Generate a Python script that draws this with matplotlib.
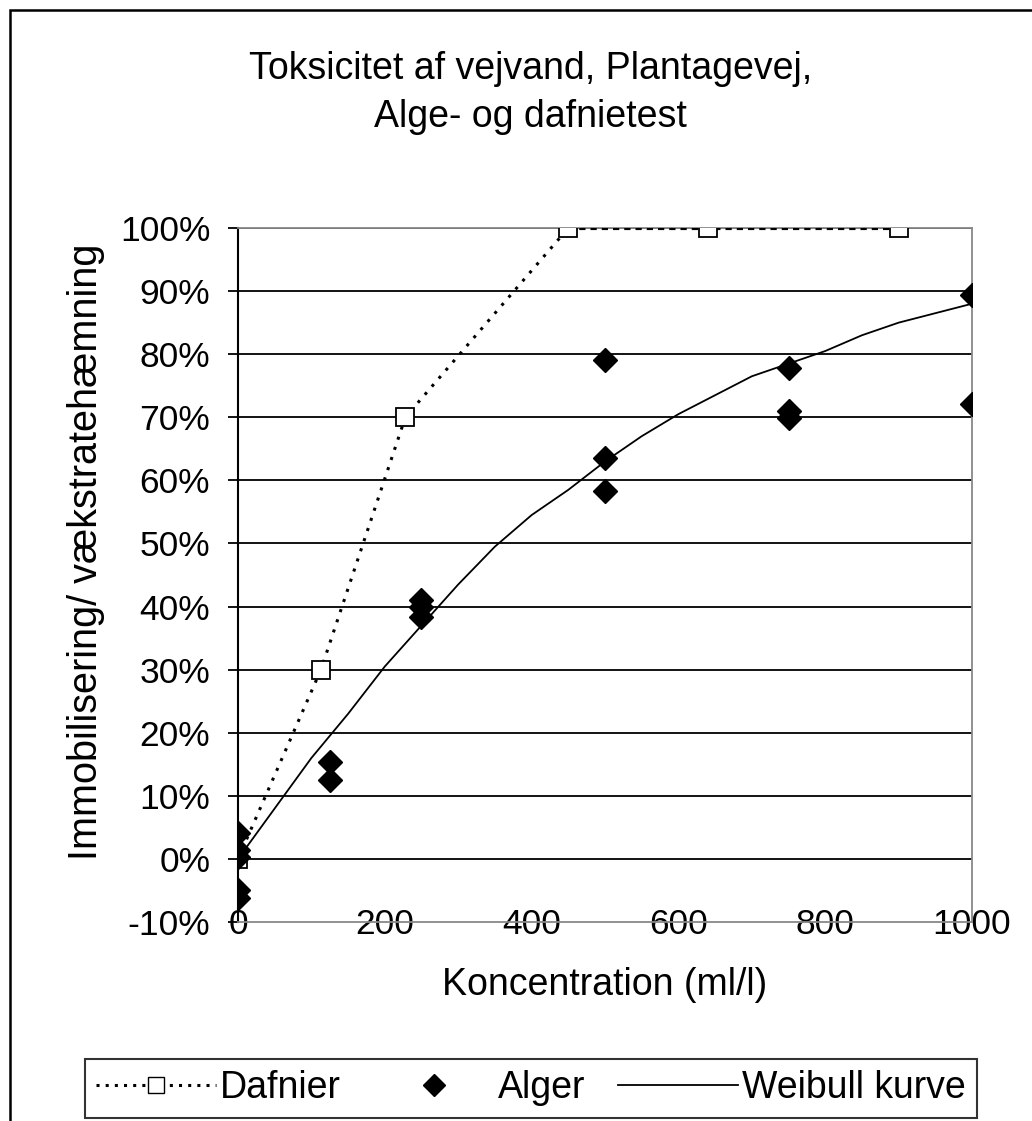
import numpy as np
import matplotlib.pyplot as plt
from matplotlib.patches import Rectangle

plt.rcParams['font.family'] = ['Liberation Sans', 'DejaVu Sans']

# Dafnier (daphnia) immobilisation
daf_x = [0, 113, 228, 450, 640, 900]
daf_y = [0, 30, 70, 100, 100, 100]

# Alger (algae) growth inhibition
alg_x = [0, 0, 0, 0, 0, 125, 125, 250, 250, 250, 500, 500, 500, 750, 750, 750, 1000, 1000]
alg_y = [4.1, 1.4, 0.3, -4.9, -6.2, 15.4, 12.5, 41, 40, 38.3, 79.1, 63.5, 58.3, 77.8, 71, 69.9, 89.4, 72.1]

# Weibull curve
wb_x = [0, 25, 50, 75, 100, 150, 200, 250, 300, 350, 400, 450, 500, 550, 600, 650, 700, 750, 800, 850, 900, 950, 1000]
wb_y = [0, 4, 8, 12, 16, 23, 30.5, 37, 43.5, 49.5, 54.5, 58.5, 63, 67, 70.5, 73.5, 76.5, 78.5, 80.5, 83, 85, 86.5, 88]

yticks = list(range(-10, 101, 10))
xticks = [0, 200, 400, 600, 800, 1000]

fig = plt.figure(figsize=(10.32, 11.21), dpi=100)
ax = fig.add_axes([0.2306, 0.1775, 0.7113, 0.6191])

# frame round the whole chart (only left and top show)
fig.patches.append(Rectangle((0.0097, -0.05), 1.2, 0.05 + 0.991, transform=fig.transFigure,
                             fill=False, edgecolor='black', linewidth=1.8))

for yv in yticks[1:]:
    ax.axhline(yv, color='black', linewidth=1.3, zorder=1)

# dafnier line: dotted up to 100 %, heavier dashes after
ax.plot(daf_x[:4], daf_y[:4], color='black', linestyle=(0, (1, 2.5)), linewidth=2.2, zorder=3)
ax.plot(daf_x[3:], daf_y[3:], color='black', linestyle=(0, (1.5, 1.2)), linewidth=3, zorder=3)
ax.plot(daf_x, daf_y, linestyle='none', marker='s', markersize=13, markerfacecolor='white',
        markeredgecolor='black', markeredgewidth=1.3, zorder=5)

ax.plot(wb_x, wb_y, color='black', linewidth=1.3, zorder=4)
ax.plot(alg_x, alg_y, linestyle='none', marker='D', markersize=12.5, color='black', zorder=6)

ax.set_xlim(0, 1000)
ax.set_ylim(-10, 100)
ax.set_yticks(yticks)
ax.set_yticklabels([f'{v}%' for v in yticks])
ax.set_xticks(xticks)
ax.tick_params(axis='y', labelsize=25.5, length=7, width=1.3, direction='out', pad=13)
ax.tick_params(axis='x', labelsize=25.5, length=0, pad=-10)

for s in ['top', 'right', 'bottom']:
    ax.spines[s].set_color('#888888')
    ax.spines[s].set_linewidth(1.3)
ax.spines['left'].set_color('black')
ax.spines['left'].set_linewidth(1.5)

fig.text(0.514, 0.917, 'Toksicitet af vejvand, Plantagevej,\nAlge- og dafnietest',
         ha='center', va='center', fontsize=27, linespacing=1.42)
fig.text(0.586, 0.1213, 'Koncentration (ml/l)', ha='center', va='center', fontsize=27)
fig.text(0.083, 0.508, 'Immobilisering/ vækstratehæmning', ha='center', va='center',
         rotation=90, fontsize=28.5)

h1, = ax.plot([], [], color='black', linestyle=(0, (1, 2)), linewidth=2.2, marker='s',
              markersize=12, markerfacecolor='white', markeredgecolor='black')
h2, = ax.plot([], [], linestyle='none', marker='D', markersize=11, color='black')
h3, = ax.plot([], [], color='black', linewidth=1.3)
leg = fig.legend([h1, h2, h3], ['Dafnier', 'Alger', 'Weibull kurve'], loc='lower left',
                 bbox_to_anchor=(0.0824, 0.003, 0.864, 0.055), mode='expand', ncol=3,
                 fontsize=27, frameon=True, fancybox=False, edgecolor='black',
                 handlelength=3.2, handletextpad=0.1, borderpad=0.3, borderaxespad=0,
                 columnspacing=0.8)
leg.get_frame().set_linewidth(1.5)

fig.savefig('out.png', dpi=100)
